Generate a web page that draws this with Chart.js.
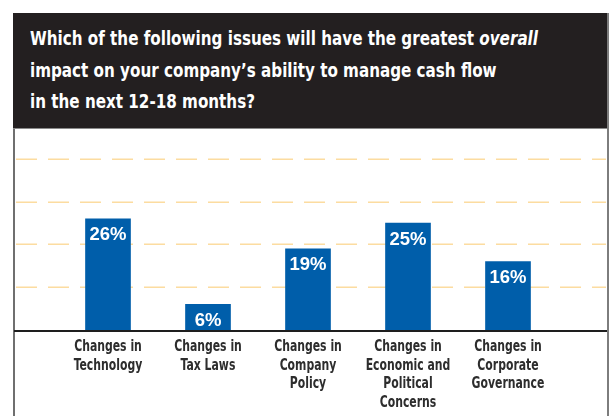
<!DOCTYPE html>
<html>
<head>
<meta charset="utf-8">
<script src="https://cdn.jsdelivr.net/npm/chart.js@4/dist/chart.umd.min.js"></script>
<style>
  html, body { margin: 0; padding: 0; background: #fff; }
  #wrap { position: relative; width: 610px; height: 416px; overflow: hidden; }
  #frame {
    position: absolute; left: 13px; top: 13px; width: 592px; height: 430px;
    border-left: 2px solid #6f6f6f; border-right: 2px solid #7d7d7d;
  }
  #head {
    position: absolute; left: 13px; top: 13px; width: 594px; height: 116px;
    box-sizing: border-box; padding: 10px 0 0 17px;
    background: #231f20; border-bottom: 1px solid #8a8a8a;
    color: #fff; font-family: "DejaVu Sans Condensed", "Liberation Sans Narrow", sans-serif;
    font-weight: bold; font-size: 20px; line-height: 31.5px; white-space: nowrap;
  }
  #head .ln { display: block; width: max-content; transform-origin: 0 50%; }
  #chart { position: absolute; left: 0; top: 0; }
</style>
</head>
<body>
<div id="wrap">
  <div id="frame"></div>
  <canvas id="chart" width="610" height="416"></canvas>
  <div id="head">
    <span class="ln">Which of the following issues will have the greatest <i>overall</i></span>
    <span class="ln">impact on your company’s ability to manage cash flow</span>
    <span class="ln">in the next 12-18 months?</span>
  </div>
</div>
<script>
// Survey answers: share of respondents per issue (%)
const categories = [
  ["Changes in", "Technology"],
  ["Changes in", "Tax Laws"],
  ["Changes in", "Company", "Policy"],
  ["Changes in", "Economic and", "Political", "Concerns"],
  ["Changes in", "Corporate", "Governance"]
];
const shares = [26, 6, 19, 25, 16];
const guideSteps = [10, 20, 30, 40];

const condensed = '"DejaVu Sans Condensed", "Liberation Sans Narrow", sans-serif';

// Squeeze the heading into a condensed look: first line spans 508px
(function () {
  const lines = document.querySelectorAll('#head .ln');
  const k = 508 / lines[0].getBoundingClientRect().width;
  lines.forEach(l => { l.style.transform = 'scaleX(' + k + ')'; });
})();

// Dashed guide lines across the whole panel, behind the bars
const guides = {
  id: 'guides',
  beforeDatasetsDraw(chart) {
    const { ctx, scales: { y } } = chart;
    ctx.save();
    ctx.strokeStyle = '#fcdca0';
    ctx.lineWidth = 1.5;
    ctx.setLineDash([21, 11]);
    guideSteps.forEach(v => {
      const py = Math.round(y.getPixelForValue(v)) + 0.25;
      ctx.beginPath();
      ctx.moveTo(16, py);
      ctx.lineTo(606, py);
      ctx.stroke();
    });
    ctx.restore();
  },
  afterDatasetsDraw(chart) {
    const { ctx, scales: { y } } = chart;
    const y0 = y.getPixelForValue(0);
    ctx.save();
    ctx.strokeStyle = '#1e1e1e';
    ctx.lineWidth = 2;
    ctx.beginPath();
    ctx.moveTo(14, y0 + 1);
    ctx.lineTo(607, y0 + 1);
    ctx.stroke();
    ctx.restore();
  }
};

// Percentage printed inside the top of each bar
const valueTags = {
  id: 'valueTags',
  afterDatasetsDraw(chart) {
    const { ctx } = chart;
    const meta = chart.getDatasetMeta(0);
    ctx.save();
    ctx.fillStyle = '#ffffff';
    ctx.font = 'bold 18.5px "Liberation Sans", Arial, sans-serif';
    ctx.textAlign = 'center';
    ctx.textBaseline = 'alphabetic';
    meta.data.forEach((bar, i) => {
      ctx.fillText(shares[i] + '%', bar.x, bar.y + 21.5);
    });
    ctx.restore();
  }
};

// Category names under the axis, condensed, centred on each bar slot
const categoryNames = {
  id: 'categoryNames',
  afterDraw(chart) {
    const { ctx, scales: { x } } = chart;
    ctx.save();
    ctx.font = 'bold 15px ' + condensed;
    ctx.fillStyle = '#2d2d2d';
    ctx.textAlign = 'center';
    ctx.textBaseline = 'alphabetic';
    const k = 67.7 / ctx.measureText('Changes in').width;
    categories.forEach((lines, i) => {
      const cx = x.getPixelForTick(i);
      lines.forEach((txt, j) => {
        ctx.save();
        ctx.translate(cx, x.top + 21 + j * 18.7);
        ctx.scale(k, 1);
        ctx.fillText(txt, 0, 0);
        ctx.restore();
      });
    });
    ctx.restore();
  }
};

new Chart(document.getElementById('chart'), {
  type: 'bar',
  data: {
    labels: categories,
    datasets: [{
      data: shares,
      backgroundColor: '#005eaa',
      borderWidth: 0,
      barThickness: 45
    }]
  },
  options: {
    responsive: false,
    devicePixelRatio: 1,
    animation: false,
    layout: { padding: { left: 58, right: 52, top: 129, bottom: 0 } },
    plugins: { legend: { display: false }, tooltip: { enabled: false } },
    scales: {
      x: {
        grid: { display: false, drawTicks: false },
        border: { display: false },
        ticks: { display: false },
        afterFit(scale) { scale.height = 86; }
      },
      y: { display: false, min: 0, max: 47 }
    }
  },
  plugins: [guides, valueTags, categoryNames]
});
</script>
</body>
</html>
